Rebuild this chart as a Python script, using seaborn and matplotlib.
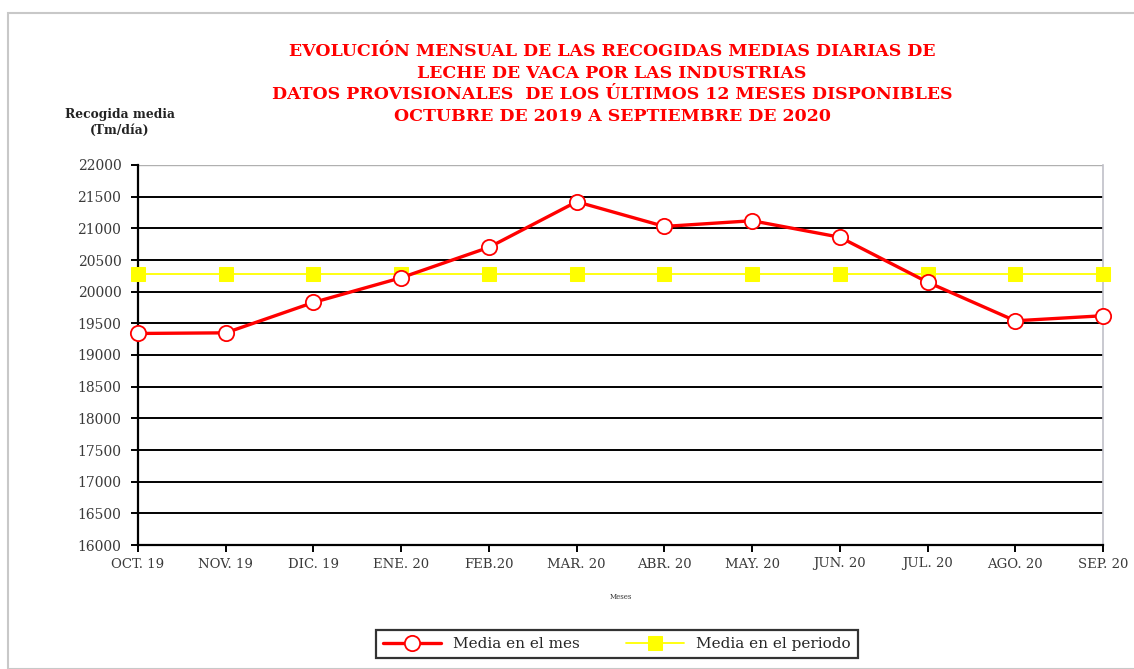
import matplotlib
matplotlib.use("Agg")
import matplotlib.pyplot as plt
import matplotlib.patches as mpatches
import seaborn as sns
import pandas as pd

months = ["OCT. 19", "NOV. 19", "DIC. 19", "ENE. 20", "FEB.20", "MAR. 20",
          "ABR. 20", "MAY. 20", "JUN. 20", "JUL. 20", "AGO. 20", "SEP. 20"]
media_mes = [19340, 19350, 19830, 20220, 20700, 21420,
             21030, 21120, 20860, 20150, 19540, 19620]
media_periodo = [20280] * 12
y_ticks = list(range(16000, 22001, 500))

df = pd.DataFrame({"Mes": months, "mes": media_mes, "periodo": media_periodo})

sns.set_theme(style="white")
plt.rcParams["font.family"] = ["DejaVu Serif", "Liberation Serif"]

fig = plt.figure(figsize=(11.34, 6.69), dpi=100)
ax = fig.add_axes([138 / 1134, 1 - 545 / 669, (1103 - 138) / 1134, (545 - 165) / 669])

# outer frame of the chart area
fig.patches.append(mpatches.Rectangle((8 / 1134, 0), 1.0, 1 - 13 / 669,
                                      transform=fig.transFigure, fill=False,
                                      edgecolor="#c8c8c8", linewidth=1.5))

sns.lineplot(data=df, x="Mes", y="periodo", ax=ax, sort=False, color="#ffff00",
             linewidth=1.3, marker="s", markersize=10, markeredgecolor="#ffff00",
             label="Media en el periodo", zorder=3, clip_on=False)
sns.lineplot(data=df, x="Mes", y="mes", ax=ax, sort=False, color="#ff0000",
             linewidth=2.4, marker="o", markersize=11, markerfacecolor="white",
             markeredgecolor="#ff0000", markeredgewidth=1.3,
             label="Media en el mes", zorder=4, clip_on=False)

ax.set_ylim(16000, 22000)
ax.set_xlim(0, len(months) - 1)
ax.set_yticks(y_ticks)
ax.set_yticklabels([str(v) for v in y_ticks], fontsize=10, color="#3a3a3a")
ax.set_xticks(range(len(months)))
ax.set_xticklabels(months, fontsize=9.5, color="#3a3a3a")
for v in y_ticks[1:-1]:
    ax.axhline(v, color="black", linewidth=1.4, zorder=1)
ax.axhline(22000, color="#b0b0b0", linewidth=1.0, zorder=1)

ax.tick_params(axis="both", which="major", direction="out", length=5, width=1.4,
               color="black", left=True, bottom=True, pad=4)
ax.tick_params(axis="y", pad=7)
for side in ["left", "bottom"]:
    ax.spines[side].set_color("black")
    ax.spines[side].set_linewidth(1.6)
ax.spines["top"].set_visible(False)
ax.spines["right"].set_color("#c0c0c8")
ax.spines["right"].set_linewidth(1.2)

ax.set_xlabel("Meses", fontsize=5, labelpad=16, color="#333333")
ax.set_ylabel("")

title = ("EVOLUCIÓN MENSUAL DE LAS RECOGIDAS MEDIAS DIARIAS DE\n"
         "LECHE DE VACA POR LAS INDUSTRIAS\n"
         "DATOS PROVISIONALES  DE LOS ÚLTIMOS 12 MESES DISPONIBLES\n"
         "OCTUBRE DE 2019 A SEPTIEMBRE DE 2020")
fig.text(612 / 1134, 1 - 43 / 669, title, ha="center", va="top", color="#ff0000",
         fontsize=12.5, fontweight="bold", linespacing=1.36)
fig.text(120 / 1134, 1 - 108 / 669, "Recogida media\n(Tm/día)", ha="center", va="top",
         fontsize=8.8, fontweight="bold", color="#222222", linespacing=1.3)

handles, labels = ax.get_legend_handles_labels()
leg = ax.legend(handles[::-1], labels[::-1], loc="center",
                bbox_to_anchor=(617 / 1134, 1 - 644 / 669), bbox_transform=fig.transFigure,
                ncol=2, frameon=True, fancybox=False, fontsize=11, handlelength=3.8,
                columnspacing=3.0, borderpad=0.45, edgecolor="black")
leg.get_frame().set_linewidth(1.6)

fig.savefig("out.png", dpi=100)
